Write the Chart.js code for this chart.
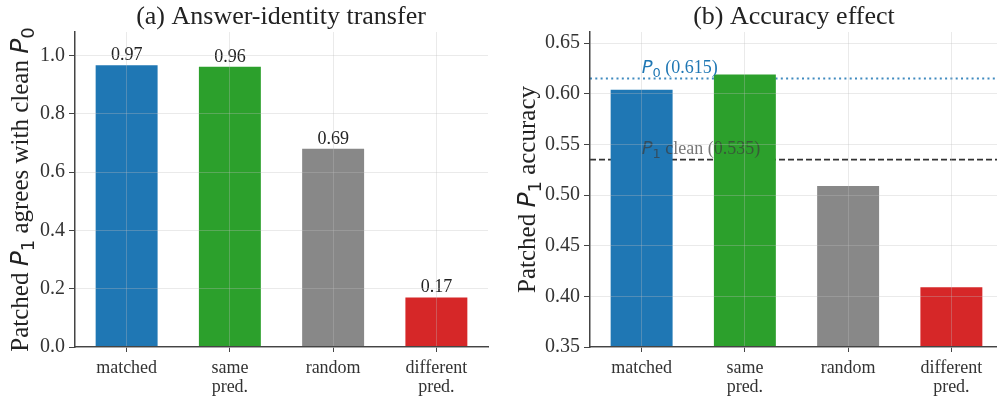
<!DOCTYPE html>
<html>
<head>
<meta charset="utf-8">
<script src="https://cdn.jsdelivr.net/npm/chart.js@4.4.1/dist/chart.umd.min.js"></script>
<style>
  body { margin: 0; background: #fff; }
  #wrap { position: relative; width: 997px; height: 396px; overflow: hidden; }
  #chartA { position: absolute; left: 0; top: 0; }
  #chartB { position: absolute; left: 500px; top: 0; }
</style>
</head>
<body>
<div id="wrap">
  <canvas id="chartA" width="500" height="396"></canvas>
  <canvas id="chartB" width="503" height="396"></canvas>
</div>
<script>
// datos
const categories = [['matched'], ['same', 'pred.'], ['random'], ['different', 'pred.']];
const barColors = ['#1f77b4', '#2ca02c', '#888888', '#d62728'];

const agreeValues = [0.966, 0.961, 0.68, 0.17];
const agreeLabels = ['0.97', '0.96', '0.69', '0.17'];
const agreeTicks = [0, 0.2, 0.4, 0.6, 0.8, 1.0];

const accuracyValues = [0.604, 0.619, 0.509, 0.409];
const accuracyTicks = [0.35, 0.40, 0.45, 0.50, 0.55, 0.60, 0.65];
const p0Accuracy = 0.615;
const p1CleanAccuracy = 0.535;

const SERIF = '"Liberation Serif", "DejaVu Serif", serif';
const MATH = '"DejaVu Sans", sans-serif';
const gridColor = 'rgba(190,190,190,0.32)';
const axisColor = '#444';

// texto con P en cursiva y subindices
function richParts(list, size) {
    return list.map(p => {
        if (p.m) return { text: p.m, font: 'italic ' + size + 'px ' + MATH, dy: 0 };
        if (p.sub) return { text: p.sub, font: Math.round(size * 0.7) + 'px ' + MATH, dy: size * 0.22 };
        return { text: p.t, font: size + 'px ' + SERIF, dy: 0 };
    });
}

function drawRich(ctx, parts, x, y, align, color) {
    ctx.save();
    ctx.fillStyle = color;
    ctx.textBaseline = 'alphabetic';
    ctx.textAlign = 'left';
    let total = 0;
    parts.forEach(p => { ctx.font = p.font; p.w = ctx.measureText(p.text).width; total += p.w; });
    let cx = align === 'center' ? x - total / 2 : x;
    parts.forEach(p => {
        ctx.font = p.font;
        ctx.fillText(p.text, cx, y + p.dy);
        cx += p.w;
    });
    ctx.restore();
}

function panelText(title, yTitle, yTitleX, titleX) {
    return {
        id: 'panelText',
        afterDraw(chart) {
            const ctx = chart.ctx;
            const a = chart.chartArea;
            ctx.save();
            ctx.fillStyle = '#222';
            ctx.font = '26px ' + SERIF;
            ctx.textAlign = 'center';
            ctx.textBaseline = 'alphabetic';
            ctx.fillText(title, titleX, 24);
            ctx.restore();

            ctx.save();
            ctx.translate(yTitleX, (a.top + a.bottom) / 2);
            ctx.rotate(-Math.PI / 2);
            drawRich(ctx, richParts(yTitle, 25), 0, 8, 'center', '#222');
            ctx.restore();
        }
    };
}

function baseOptions(ticks, min, max, yWidth, rightPad, decimals) {
    return {
        responsive: false,
        animation: false,
        layout: { padding: { top: 32, left: 0, right: rightPad, bottom: 0 } },
        plugins: { legend: { display: false }, tooltip: { enabled: false }, title: { display: false } },
        scales: {
            x: {
                grid: { offset: false, color: gridColor, z: 1, tickColor: axisColor, tickLength: 5, lineWidth: 1 },
                border: { color: axisColor, width: 1.5, z: 1 },
                ticks: { color: '#333', font: { family: SERIF, size: 18, lineHeight: 1.05 }, padding: 7, maxRotation: 0 },
                afterFit(s) { s.height = 49; }
            },
            y: {
                min: min, max: max,
                grid: { color: gridColor, z: 1, tickColor: axisColor, tickLength: 6, lineWidth: 1 },
                border: { color: axisColor, width: 1.5, z: 1 },
                ticks: {
                    color: '#333', font: { family: SERIF, size: 20 }, padding: 4,
                    callback: v => v.toFixed(decimals)
                },
                afterBuildTicks(s) { s.ticks = ticks.map(v => ({ value: v })); },
                afterFit(s) { s.width = yWidth; }
            }
        }
    };
}

// (a) transferencia de identidad
const valueLabels = {
    id: 'valueLabels',
    afterDatasetsDraw(chart) {
        const ctx = chart.ctx;
        const meta = chart.getDatasetMeta(0);
        ctx.save();
        ctx.fillStyle = '#222';
        ctx.font = '18px ' + SERIF;
        ctx.textAlign = 'center';
        ctx.textBaseline = 'alphabetic';
        meta.data.forEach((bar, i) => ctx.fillText(agreeLabels[i], bar.x, bar.y - 5));
        ctx.restore();
    }
};

new Chart(document.getElementById('chartA'), {
    type: 'bar',
    data: {
        labels: categories,
        datasets: [{
            data: agreeValues,
            backgroundColor: barColors,
            borderWidth: 0,
            categoryPercentage: 1.0,
            barPercentage: 0.6
        }]
    },
    options: baseOptions(agreeTicks, 0, 1.08, 75, 12, 1),
    plugins: [valueLabels, panelText('(a) Answer-identity transfer',
        [{ t: 'Patched ' }, { m: 'P' }, { sub: '1' }, { t: ' agrees with clean ' }, { m: 'P' }, { sub: '0' }], 20, 281)]
});

// (b) efecto en la precision
const refLines = {
    id: 'refLines',
    beforeDatasetsDraw(chart) {
        const ctx = chart.ctx;
        const a = chart.chartArea;
        const y = chart.scales.y;
        ctx.save();
        ctx.lineWidth = 2;
        ctx.strokeStyle = 'rgba(31,119,180,0.85)';
        ctx.setLineDash([2, 3.3]);
        ctx.beginPath();
        ctx.moveTo(a.left, y.getPixelForValue(p0Accuracy));
        ctx.lineTo(a.right, y.getPixelForValue(p0Accuracy));
        ctx.stroke();
        ctx.lineWidth = 1.6;
        ctx.strokeStyle = '#333';
        ctx.setLineDash([6, 3]);
        ctx.beginPath();
        ctx.moveTo(a.left, y.getPixelForValue(p1CleanAccuracy));
        ctx.lineTo(a.right, y.getPixelForValue(p1CleanAccuracy));
        ctx.stroke();
        ctx.restore();
    },
    afterDatasetsDraw(chart) {
        const ctx = chart.ctx;
        const y = chart.scales.y;
        const x0 = chart.getDatasetMeta(0).data[0].x;
        drawRich(ctx, richParts([{ m: 'P' }, { sub: '0' }, { t: ' (' + p0Accuracy.toFixed(3) + ')' }], 18),
            x0, y.getPixelForValue(p0Accuracy) - 6, 'left', '#1f77b4');
        drawRich(ctx, richParts([{ m: 'P' }, { sub: '1' }, { t: ' clean (' + p1CleanAccuracy.toFixed(3) + ')' }], 18),
            x0, y.getPixelForValue(p1CleanAccuracy) - 6, 'left', 'rgba(60,60,60,0.7)');
    }
};

new Chart(document.getElementById('chartB'), {
    type: 'bar',
    data: {
        labels: categories,
        datasets: [{
            data: accuracyValues,
            backgroundColor: barColors,
            borderWidth: 0,
            categoryPercentage: 1.0,
            barPercentage: 0.6
        }]
    },
    options: baseOptions(accuracyTicks, 0.35, 0.661, 90, 0, 2),
    plugins: [refLines, panelText('(b) Accuracy effect',
        [{ t: 'Patched ' }, { m: 'P' }, { sub: '1' }, { t: ' accuracy' }], 27, 294)]
});
</script>
</body>
</html>
